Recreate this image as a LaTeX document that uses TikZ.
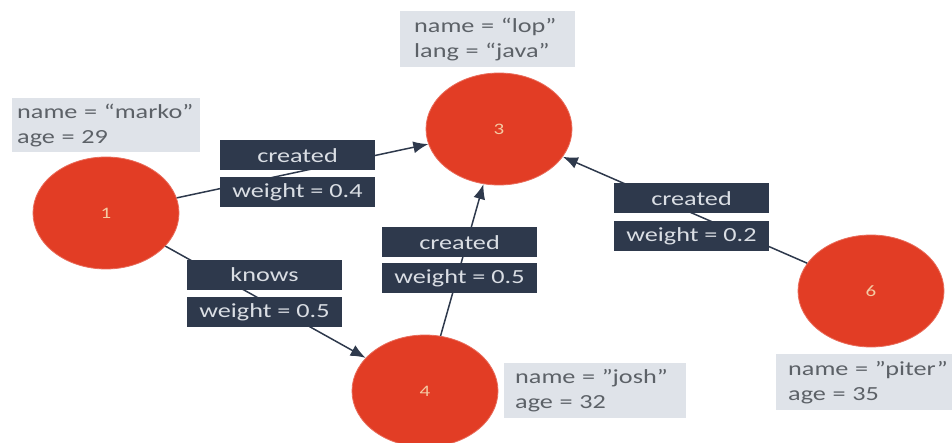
\documentclass[tikz,border=0pt]{standalone}
\usepackage{fontspec}
\setmainfont[FakeStretch=1.31]{Carlito}
\usetikzlibrary{shapes.geometric,arrows.meta}
\definecolor{vred}{HTML}{E23D25}
\definecolor{vlbl}{HTML}{F4CBA4}
\definecolor{navy}{HTML}{2E394C}
\definecolor{boxtx}{HTML}{DADEE4}
\definecolor{propbg}{HTML}{DFE3E9}
\definecolor{proptx}{HTML}{5C6167}
\tikzset{
  vertex/.style={ellipse, fill=vred, draw=vred!75!white, line width=0.8pt,
    minimum width=146pt, minimum height=112pt,
    text=vlbl, font=\fontsize{16}{18}\selectfont},
  edgebox/.style={fill=navy, text=boxtx, minimum width=155pt, minimum height=30pt,
    inner sep=0pt, font=\fontsize{20}{22}\selectfont},
  props/.style={fill=propbg, text=proptx, align=left, anchor=north west, inner ysep=0pt,
    font=\fontsize{20}{25}\selectfont},
  rel/.style={draw=navy, line width=1.5pt, -{Latex[length=15pt,width=12pt]}},
}
\begin{document}
\begin{tikzpicture}[x=1pt,y=-1pt]
\useasboundingbox (0,0) rectangle (952,443);
% vertices
\node[vertex] (v1) at (106,213) {1};
\node[vertex] (v3) at (499,129) {3};
\node[vertex] (v4) at (425,391) {4};
\node[vertex] (v6) at (871,291) {6};
% relations, drawn under their labels
\draw[rel] (v1) -- (v3);
\draw[rel] (v1) -- (v4);
\draw[rel] (v4) -- (v3);
\draw[rel] (v6) -- (v3);
% relation labels
\node[edgebox] (c13) at (297.5,155.5) {created};
\node[edgebox] (w13) at (297.5,192) {weight = 0.4};
\node[edgebox] (k14) at (264.5,275) {knows};
\node[edgebox] (w14) at (264.5,312) {weight = 0.5};
\node[edgebox] (c43) at (459.5,242.5) {created};
\node[edgebox] (w43) at (459.5,278) {weight = 0.5};
\node[edgebox] (c63) at (691.5,198.5) {created};
\node[edgebox] (w63) at (691.5,236) {weight = 0.2};
% vertex properties
\node[props, inner xsep=5pt, text width=178pt, minimum height=54pt] (p1) at (12,98)
  {\mbox{name = “marko”}\\\mbox{age = 29}};
\node[props, inner xsep=14pt, text width=147pt, minimum height=56pt] (p3) at (400,11)
  {\mbox{name = “lop”}\\\mbox{lang = “java”}};
\node[props, inner xsep=11pt, text width=160pt, minimum height=55pt] (p4) at (504,363)
  {\mbox{name = ”josh”}\\\mbox{age = 32}};
\node[props, inner xsep=12pt, text width=153pt, minimum height=56pt] (p6) at (776,354)
  {\mbox{name = ”piter”}\\\mbox{age = 35}};
\end{tikzpicture}
\end{document}
